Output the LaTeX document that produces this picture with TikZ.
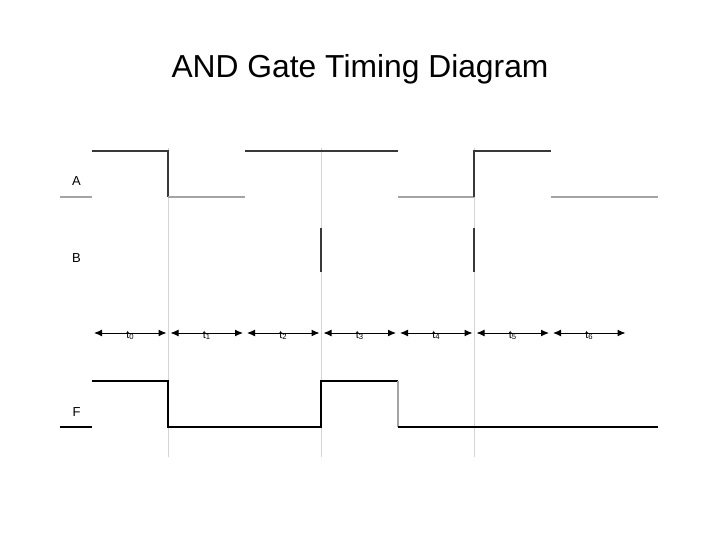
\documentclass[tikz,border=0pt]{standalone}
\usepackage{fontspec}
\setmainfont{Liberation Sans}
\usepackage{tikz}
\usetikzlibrary{arrows.meta}
\definecolor{hiwire}{HTML}{383838}
\definecolor{lowire}{HTML}{A4A4A4}
\definecolor{gridgray}{HTML}{D4D4D4}

\begin{document}
\begin{tikzpicture}[x=1pt, y=-1pt,
		gridline/.style={draw=gridgray, line width=0.9pt},
		high/.style={draw=hiwire, line width=1.2pt},
		low/.style={draw=lowire, line width=1.2pt},
		outwire/.style={draw=black, line width=1.4pt},
		span/.style={{Latex[length=8pt,width=7pt]}-{Latex[length=8pt,width=7pt]}, line width=1pt, shorten <=2pt, shorten >=2pt},
		signame/.style={anchor=center, font=\fontsize{13}{15}\selectfont},
		tname/.style={anchor=base, font=\fontsize{11}{13}\selectfont}]
		\useasboundingbox (0,0) rectangle (720,540);
		% Title and signal names:
		\node[font=\fontsize{31.8}{38}\selectfont](Title) at (360,69){AND Gate Timing Diagram};
		\node[signame](LA) at (76.5,181.5){A};
		\node[signame](LB) at (76.5,258){B};
		\node[signame](LF) at (76.5,412){F};
		% Grid lines:
		\foreach \x in {168,321,474}
			\draw[gridline] (\x,148) -- (\x,457);
		% Input A:
		\draw[low] (60,197) -- (92,197);
		\draw[high] (92,151) -- (168,151) -- (168,197);
		\draw[low] (168,197) -- (245,197);
		\draw[high] (245,151) -- (398,151);
		\draw[low] (398,197) -- (474,197);
		\draw[high] (474,197) -- (474,151) -- (551,151);
		\draw[low] (551,197) -- (658,197);
		% Input B:
		\draw[high] (321,228) -- (321,272);
		\draw[high] (474,228) -- (474,272);
		% Time intervals:
		\foreach \i/\x in {0/92,1/168.5,2/245,3/321.5,4/398,5/474.5,6/551,7/627.5}
			\coordinate (T\i) at (\x,333);
		\foreach \i [count=\j] in {0,...,6}
			\draw[span] (T\i) -- (T\j) node[tname, midway, yshift=-5pt]{t\textsubscript{\i}};
		% Output F:
		\draw[outwire] (60,427) -- (92,427);
		\draw[outwire] (92,381) -- (168,381) -- (168,427) -- (321,427) -- (321,381) -- (398,381);
		\draw[low] (398,381) -- (398,427);
		\draw[outwire] (398,427) -- (658,427);
	\end{tikzpicture}
\end{document}
